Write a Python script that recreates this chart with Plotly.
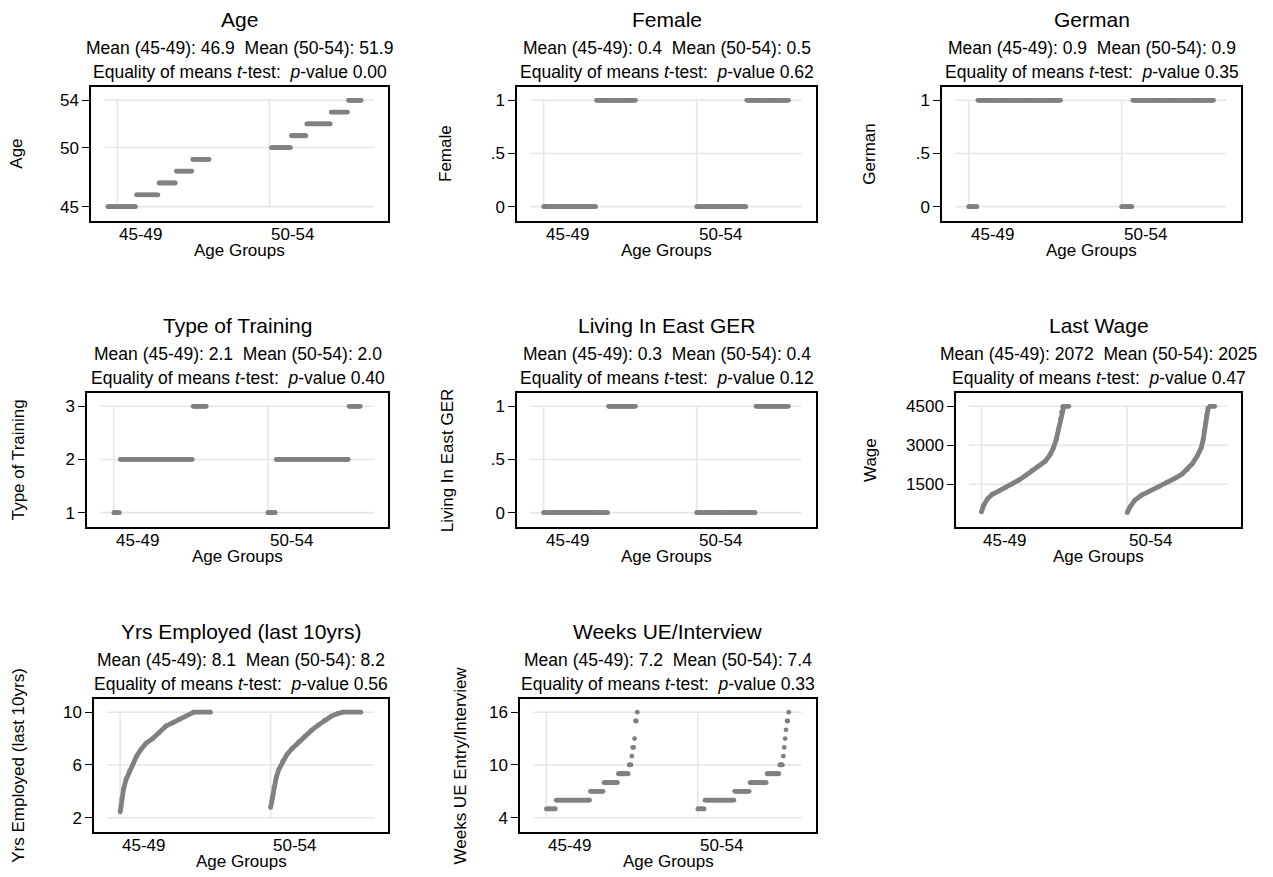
import plotly.graph_objects as go

W, H = 1273, 877

# ---------------- data ----------------
GROUP_LABELS = ["45-49", "50-54"]
X_TITLE = "Age Groups"

titles = ["Age", "Female", "German", "Type of Training", "Living In East GER",
          "Last Wage", "Yrs Employed (last 10yrs)", "Weeks UE/Interview"]
y_titles = ["Age", "Female", "German", "Type of Training", "Living In East GER",
            "Wage", "Yrs Employed (last 10yrs)", "Weeks UE Entry/Interview"]
means_45_49 = ["46.9", "0.4", "0.9", "2.1", "0.3", "2072", "8.1", "7.2"]
means_50_54 = ["51.9", "0.5", "0.9", "2.0", "0.4", "2025", "8.2", "7.4"]
p_values = ["0.00", "0.62", "0.35", "0.40", "0.12", "0.47", "0.56", "0.33"]

y_tickvals = [[45, 50, 54], [0, 0.5, 1], [0, 0.5, 1], [1, 2, 3], [0, 0.5, 1],
              [1500, 3000, 4500], [2, 6, 10], [4, 10, 16]]
y_ticktext = [["45", "50", "54"], ["0", ".5", "1"], ["0", ".5", "1"], ["1", "2", "3"],
              ["0", ".5", "1"], ["1500", "3000", "4500"], ["2", "6", "10"], ["4", "10", "16"]]

# discrete variables: values and number of observations (sorted), per age group
age_vals_g1 = [45, 46, 47, 48, 49]
age_n_g1 = [28, 22, 17, 16, 17]
age_vals_g2 = [50, 51, 52, 53, 54]
age_n_g2 = [22, 17, 27, 19, 15]

female_vals = [0, 1]
female_n_g1 = [57, 43]
female_n_g2 = [54, 46]

german_vals = [0, 1]
german_n_g1 = [10, 90]
german_n_g2 = [12, 88]

training_vals = [1, 2, 3]
training_n_g1 = [7, 78, 15]
training_n_g2 = [9, 78, 13]

east_vals = [0, 1]
east_n_g1 = [70, 30]
east_n_g2 = [64, 36]

weeks_vals_g1 = [5, 6, 7, 8, 9, 10, 11, 12, 13, 15, 16]
weeks_n_g1 = [11, 38, 15, 16, 12, 3, 1, 2, 1, 2, 1]
weeks_vals_g2 = [5, 6, 7, 8, 9, 10, 11, 12, 13, 14, 15, 16]
weeks_n_g2 = [8, 33, 17, 19, 14, 4, 1, 1, 1, 1, 2, 1]

# continuous variables: value at rank share (0 = lowest, 1 = highest)
wage_rank_g1 = [0, .027, .068, .125, .202, .278, .350, .426, .502, .578, .654, .730,
                .787, .825, .856, .882, .905, .916, .928, .943, 1.0]
wage_g1 = [431, 692, 927, 1110, 1240, 1370, 1500, 1657, 1827, 2022, 2192, 2387,
           2648, 2909, 3235, 3626, 4017, 4278, 4474, 4500, 4500]
wage_rank_g2 = [0, .031, .088, .165, .262, .358, .454, .550, .627, .685, .742, .800,
                .846, .869, .885, .896, .908, .923, .946, 1.0]
wage_g2 = [405, 627, 888, 1084, 1240, 1396, 1579, 1735, 1892, 2061, 2283, 2583,
           2909, 3235, 3561, 3887, 4148, 4409, 4500, 4500]

yrs_rank_g1 = [0, .011, .018, .037, .066, .103, .139, .183, .231, .286, .359, .432,
               .505, .579, .652, .725, .799, .817, 1.0]
yrs_g1 = [2.45, 2.96, 3.46, 4.16, 4.92, 5.55, 6.05, 6.68, 7.18, 7.64, 7.99, 8.44,
          8.94, 9.19, 9.45, 9.70, 9.95, 10, 10]
yrs_rank_g2 = [0, .018, .036, .062, .091, .135, .182, .236, .309, .382, .455, .527,
               .600, .673, .745, .800, 1.0]
yrs_g2 = [2.78, 3.53, 4.29, 5.04, 5.67, 6.30, 6.81, 7.23, 7.74, 8.19, 8.64, 9.02,
          9.40, 9.70, 9.90, 10, 10]

# ---------------- layout / style ----------------
FONT = "Liberation Sans, Arial, Helvetica, sans-serif"
GRAY = "#808080"
GRID = "#e6e6e6"
MSIZE = 4.8

# plot frame (left, right, top, bottom) in pixels
frames = [(91, 388, 87, 221), (517, 816, 87, 221), (942, 1241, 87, 221),
          (87, 388, 393, 527), (517, 816, 393, 527), (956, 1241, 393, 527),
          (94, 388, 699, 832), (520, 816, 699, 832)]
ytitle_px = [16.7, 446, 869.7, 18.3, 447.3, 870, 18.3, 460]
default_span = [(1.0, 1.6), (2.0, 2.6)]
spans = [[(0.937, 1.603), (2.013, 2.603)]] + [default_span] * 7
X_RANGE = [0.826, 2.78]
GRID_X = [0.915, 2.685]


def expand(vals, counts):
    out = []
    for v, c in zip(vals, counts):
        out += [v] * c
    return out


panel_data = [
    ("disc", [expand(age_vals_g1, age_n_g1), expand(age_vals_g2, age_n_g2)]),
    ("disc", [expand(female_vals, female_n_g1), expand(female_vals, female_n_g2)]),
    ("disc", [expand(german_vals, german_n_g1), expand(german_vals, german_n_g2)]),
    ("disc", [expand(training_vals, training_n_g1), expand(training_vals, training_n_g2)]),
    ("disc", [expand(east_vals, east_n_g1), expand(east_vals, east_n_g2)]),
    ("cont", [(wage_rank_g1, wage_g1), (wage_rank_g2, wage_g2)]),
    ("cont", [(yrs_rank_g1, yrs_g1), (yrs_rank_g2, yrs_g2)]),
    ("disc", [expand(weeks_vals_g1, weeks_n_g1), expand(weeks_vals_g2, weeks_n_g2)]),
]


def px_x(p):
    return p / W


def px_y(p):
    return 1 - p / H


fig = go.Figure()
layout = dict(width=W, height=H, margin=dict(l=0, r=0, t=0, b=0),
              paper_bgcolor="white", plot_bgcolor="white", showlegend=False,
              font=dict(family=FONT, size=17, color="black"))
shapes = []
annotations = []

for k in range(8):
    n = k + 1
    xa = "x" if n == 1 else f"x{n}"
    ya = "y" if n == 1 else f"y{n}"
    l, r, t, b = frames[k]
    kind, groups = panel_data[k]
    all_y = []
    for g, (s, e) in enumerate(spans[k]):
        if kind == "disc":
            ys = groups[g]
            m = len(ys)
            xs = [s + (e - s) * i / (m - 1) for i in range(m)]
            fig.add_trace(go.Scatter(x=xs, y=ys, xaxis=xa, yaxis=ya, mode="markers",
                                     marker=dict(size=MSIZE, color=GRAY, line=dict(width=0)),
                                     hoverinfo="skip"))
        else:
            ranks, ys = groups[g]
            xs = [s + (e - s) * q for q in ranks]
            fig.add_trace(go.Scatter(x=xs, y=ys, xaxis=xa, yaxis=ya, mode="lines+markers",
                                     line=dict(width=MSIZE, color=GRAY),
                                     marker=dict(size=MSIZE, color=GRAY, line=dict(width=0)),
                                     hoverinfo="skip"))
        all_y += list(ys)
    lo = min(min(all_y), min(y_tickvals[k]))
    hi = max(max(all_y), max(y_tickvals[k]))
    span = hi - lo
    yr = [lo - 0.135 * span, hi + 0.125 * span]

    layout["xaxis" if n == 1 else f"xaxis{n}"] = dict(
        domain=[px_x(l), px_x(r)], range=X_RANGE, anchor=ya,
        showgrid=False, zeroline=False, showticklabels=False, ticks="",
        showline=True, mirror=True, linecolor="black", linewidth=1.5)
    layout["yaxis" if n == 1 else f"yaxis{n}"] = dict(
        domain=[px_y(b), px_y(t)], range=yr, anchor=xa,
        showgrid=False, zeroline=False, tickvals=y_tickvals[k], ticktext=y_ticktext[k],
        ticks="outside", ticklen=7, tickwidth=1.3, tickcolor="black",
        tickfont=dict(size=17), showline=True, mirror=True, linecolor="black", linewidth=1.5)

    # grid lines limited to the data region
    for tv in y_tickvals[k]:
        shapes.append(dict(type="line", xref=xa, yref=ya, x0=GRID_X[0], x1=GRID_X[1],
                           y0=tv, y1=tv, line=dict(color=GRID, width=1.6), layer="below"))
    for gx in (1, 2):
        shapes.append(dict(type="line", xref=xa, yref=ya, x0=gx, x1=gx, y0=lo, y1=hi,
                           line=dict(color=GRID, width=1.6), layer="below"))

    cx = px_x((l + r) / 2)
    annotations.append(dict(text=titles[k], x=cx, y=px_y(t - 67.7), xref="paper", yref="paper",
                            xanchor="center", yanchor="middle", showarrow=False,
                            font=dict(size=21)))
    annotations.append(dict(text=f"Mean (45-49): {means_45_49[k]} \u00a0Mean (50-54): {means_50_54[k]}",
                            x=cx, y=px_y(t - 38.7), xref="paper", yref="paper",
                            xanchor="center", yanchor="middle", showarrow=False,
                            font=dict(size=17.5)))
    annotations.append(dict(text=f"Equality of means <i>t</i>-test: \u00a0<i>p</i>-value {p_values[k]}",
                            x=cx, y=px_y(t - 15.3), xref="paper", yref="paper",
                            xanchor="center", yanchor="middle", showarrow=False,
                            font=dict(size=17.5)))
    annotations.append(dict(text=y_titles[k], x=px_x(ytitle_px[k]), y=px_y((t + b) / 2),
                            xref="paper", yref="paper", textangle=-90,
                            xanchor="center", yanchor="middle", showarrow=False,
                            font=dict(size=17)))
    for gx, lab in zip((1, 2), GROUP_LABELS):
        annotations.append(dict(text=lab, x=gx, xref=xa, y=px_y(b + 13), yref="paper",
                                xanchor="left", yanchor="middle", showarrow=False,
                                font=dict(size=17)))
    annotations.append(dict(text=X_TITLE, x=cx, y=px_y(b + 29.5), xref="paper", yref="paper",
                            xanchor="center", yanchor="middle", showarrow=False,
                            font=dict(size=17)))

layout["shapes"] = shapes
layout["annotations"] = annotations
fig.update_layout(**layout)

fig.write_html("out.html", config={"displayModeBar": False},
               post_script="document.body.style.margin='0';")
